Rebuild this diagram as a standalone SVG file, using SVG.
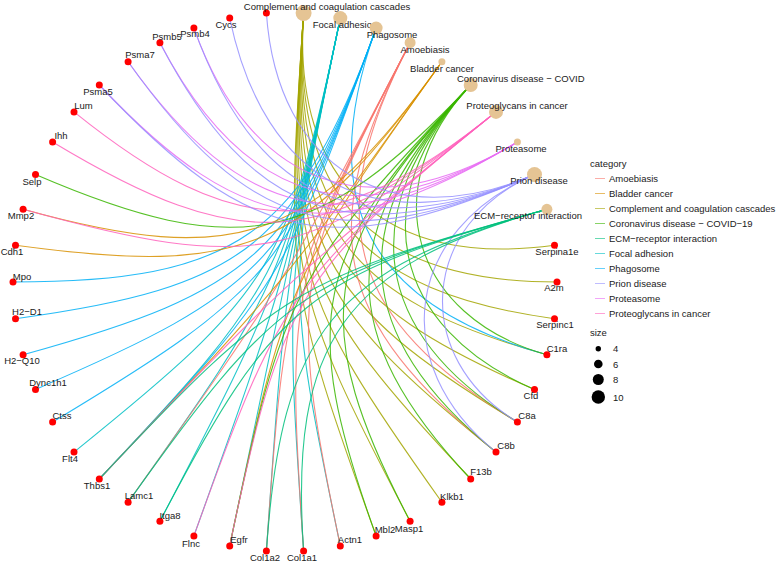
<svg xmlns="http://www.w3.org/2000/svg" width="778" height="562" viewBox="0 0 778 562">
<style>
text{font-family:"Liberation Sans",Arial,sans-serif;font-size:9.5px;fill:#1a1a1a}
.m{text-anchor:middle}
#edges path{fill:none;stroke-width:1.1;stroke-opacity:0.85}
.amo{stroke:#F8766D}.bla{stroke:#D89000}.com{stroke:#A3A500}.cov{stroke:#39B600}.ecm{stroke:#00BF7D}
.foc{stroke:#00BFC4}.pha{stroke:#00B0F6}.pri{stroke:#9590FF}.prs{stroke:#E76BF3}.prg{stroke:#FF62BC}
.g{fill:#FF0000}.c{fill:#E5C494}
.key{stroke-width:1;stroke-opacity:0.6}
</style>
<rect width="778" height="562" fill="#ffffff"/>
<g id="edges">
<g class="com">
<path d="M303.6 13.1C291.9 182.8 384.4 268.5 554.5 245.3"/>
<path d="M303.6 13.1C290.9 196.6 371.3 282 557 282"/>
<path d="M303.6 13.1C290 209.6 357.5 291.9 554.5 318.7"/>
<path d="M303.6 13.1C289.2 221.7 343.7 298.3 546.9 354.7"/>
<path d="M303.6 13.1C288.4 232.8 330.7 301.7 534.5 389.4"/>
<path d="M303.6 13.1C287.7 242.9 318.8 302.4 517.4 422"/>
<path d="M303.6 13.1C287.1 251.9 308.7 301.1 496 452.1"/>
<path d="M303.6 13.1C286.5 259.7 300.4 298.3 470.7 479"/>
<path d="M303.6 13.1C286.1 266.5 294.1 294.7 441.9 502.2"/>
<path d="M303.6 13.1C285.7 272 289.6 290.9 410.1 521.3"/>
<path d="M303.6 13.1C285.4 276.4 286.9 287.3 376.1 535.9"/>
</g>
<g class="foc">
<path d="M340.3 18.1C286.2 276.5 286.2 287.5 340.3 545.9"/>
<path d="M340.3 18.1C285.5 279.5 285.2 284.5 303.6 550.9"/>
<path d="M340.3 18.1C285.1 281.4 285 282.6 266.4 550.9"/>
<path d="M340.3 18.1C285 282 285 282 229.7 545.9"/>
<path d="M340.3 18.1C285.1 281.4 284.8 282.6 193.9 535.9"/>
<path d="M340.3 18.1C285.5 279.5 283.8 284.2 159.9 521.3"/>
<path d="M340.3 18.1C286.2 276.5 281.7 286.6 128.1 502.2"/>
<path d="M340.3 18.1C287.1 272.2 278.1 289.3 99.3 479"/>
<path d="M340.3 18.1C288.2 266.8 272.8 291.8 74 452.1"/>
</g>
<g class="pha">
<path d="M376.1 28.1C313.9 201.4 368.1 305.1 546.9 354.7"/>
<path d="M376.1 28.1C286.9 276.7 281.1 286.1 99.3 479"/>
<path d="M376.1 28.1C290.3 267.3 271.6 290.1 52.6 422"/>
<path d="M376.1 28.1C292.5 261 264.3 290.9 35.5 389.4"/>
<path d="M376.1 28.1C295.2 253.5 255.6 290.2 23.1 354.7"/>
<path d="M376.1 28.1C298.3 245 245.8 287.3 15.5 318.7"/>
<path d="M376.1 28.1C301.7 235.5 235.2 282 13 282"/>
</g>
<g class="amo">
<path d="M410.1 42.7C318.7 217.6 347.6 319.7 517.4 422"/>
<path d="M410.1 42.7C313.1 228.3 332.3 320.2 496 452.1"/>
<path d="M410.1 42.7C292.2 268.2 288.2 297.2 340.3 545.9"/>
<path d="M410.1 42.7C289.6 273.1 285.7 292 303.6 550.9"/>
<path d="M410.1 42.7C287.6 277 284.6 287.6 266.4 550.9"/>
<path d="M410.1 42.7C285.3 281.4 284.6 282.5 128.1 502.2"/>
</g>
<g class="bla">
<path d="M441.9 61.8C288.3 277.4 283.8 287.5 229.7 545.9"/>
<path d="M441.9 61.8C285.4 281.5 284.6 282.5 99.3 479"/>
<path d="M441.9 61.8C307.8 249.9 245.8 276.7 15.5 245.3"/>
<path d="M441.9 61.8C313.7 241.7 237.1 268.7 23.1 209.3"/>
</g>
<g class="cov">
<path d="M470.7 85C374.2 187.4 410.8 316.9 546.9 354.7"/>
<path d="M470.7 85C363.6 198.6 390.6 327.5 534.5 389.4"/>
<path d="M470.7 85C353.5 209.3 370.7 333.6 517.4 422"/>
<path d="M470.7 85C344 219.5 352 336 496 452.1"/>
<path d="M470.7 85C335 229 335 335 470.7 479"/>
<path d="M470.7 85C319 245.9 307.9 325.8 410.1 521.3"/>
<path d="M470.7 85C312 253.3 298.3 319 376.1 535.9"/>
<path d="M470.7 85C291.9 274.7 283 291.8 229.7 545.9"/>
<path d="M470.7 85C319 245.9 239.3 262.3 35.5 174.6"/>
</g>
<g class="prg">
<path d="M496 111.9C297.2 272.2 281.8 297.2 229.7 545.9"/>
<path d="M496 111.9C292.8 275.7 281.6 291.4 193.9 535.9"/>
<path d="M496 111.9C285.5 281.6 284.6 282.5 99.3 479"/>
<path d="M496 111.9C308.7 262.9 255.6 273.8 23.1 209.3"/>
<path d="M496 111.9C323.6 250.9 242.5 256.4 52.6 142"/>
<path d="M496 111.9C332.3 243.8 237.7 243.8 74 111.9"/>
</g>
<g class="prs">
<path d="M517.4 142C337.1 250.6 243.4 237.8 99.3 85"/>
<path d="M517.4 142C347.6 244.3 242.8 222.7 128.1 61.8"/>
<path d="M517.4 142C358.8 237.6 245.3 206 159.9 42.7"/>
<path d="M517.4 142C370.7 230.4 251.4 188.3 193.9 28.1"/>
</g>
<g class="pri">
<path d="M534.5 174.6C419.7 224 410.5 357.6 517.4 422"/>
<path d="M534.5 174.6C404.9 230.4 386.4 363.7 496 452.1"/>
<path d="M534.5 174.6C330.7 262.3 251 245.9 99.3 85"/>
<path d="M534.5 174.6C341 257.9 249.8 232.6 128.1 61.8"/>
<path d="M534.5 174.6C352.2 253.1 251.3 217.6 159.9 42.7"/>
<path d="M534.5 174.6C364.2 247.9 256.1 201.4 193.9 28.1"/>
<path d="M534.5 174.6C377 242.4 264.6 184.6 229.7 18.1"/>
<path d="M534.5 174.6C390.6 236.5 277.1 168.2 266.4 13.1"/>
</g>
<g class="ecm">
<path d="M546.9 209.3C343.7 265.7 289.2 342.3 303.6 550.9"/>
<path d="M546.9 209.3C332.9 268.7 281.6 331.2 266.4 550.9"/>
<path d="M546.9 209.3C306.7 276 274.6 301.8 159.9 521.3"/>
<path d="M546.9 209.3C300.1 277.8 275.9 294.7 128.1 502.2"/>
<path d="M546.9 209.3C294.7 279.3 278.1 289.3 99.3 479"/>
</g>
</g>
<g id="genes">
<g id="n-Serpina1e"><circle class="g" cx="554.5" cy="245.3" r="3.5"/><text class="m" x="557" y="255">Serpina1e</text></g>
<g id="n-A2m"><circle class="g" cx="557" cy="282" r="3.5"/><text class="m" x="554" y="291">A2m</text></g>
<g id="n-Serpinc1"><circle class="g" cx="554.5" cy="318.7" r="3.5"/><text class="m" x="555" y="328">Serpinc1</text></g>
<g id="n-C1ra"><circle class="g" cx="546.9" cy="354.7" r="3.5"/><text class="m" x="557" y="352">C1ra</text></g>
<g id="n-Cfd"><circle class="g" cx="534.5" cy="389.4" r="3.5"/><text class="m" x="531" y="399">Cfd</text></g>
<g id="n-C8a"><circle class="g" cx="517.4" cy="422" r="3.5"/><text class="m" x="527" y="419">C8a</text></g>
<g id="n-C8b"><circle class="g" cx="496" cy="452.1" r="3.5"/><text class="m" x="506" y="449">C8b</text></g>
<g id="n-F13b"><circle class="g" cx="470.7" cy="479" r="3.5"/><text class="m" x="481" y="475">F13b</text></g>
<g id="n-Klkb1"><circle class="g" cx="441.9" cy="502.2" r="3.5"/><text class="m" x="452" y="500">Klkb1</text></g>
<g id="n-Masp1"><circle class="g" cx="410.1" cy="521.3" r="3.5"/><text class="m" x="409" y="532">Masp1</text></g>
<g id="n-Mbl2"><circle class="g" cx="376.1" cy="535.9" r="3.5"/><text class="m" x="385" y="533">Mbl2</text></g>
<g id="n-Actn1"><circle class="g" cx="340.3" cy="545.9" r="3.5"/><text class="m" x="350" y="543">Actn1</text></g>
<g id="n-Col1a1"><circle class="g" cx="303.6" cy="550.9" r="3.5"/><text class="m" x="302" y="561">Col1a1</text></g>
<g id="n-Col1a2"><circle class="g" cx="266.4" cy="550.9" r="3.5"/><text class="m" x="265" y="561">Col1a2</text></g>
<g id="n-Egfr"><circle class="g" cx="229.7" cy="545.9" r="3.5"/><text class="m" x="239" y="543">Egfr</text></g>
<g id="n-Flnc"><circle class="g" cx="193.9" cy="535.9" r="3.5"/><text class="m" x="191" y="547">Flnc</text></g>
<g id="n-Itga8"><circle class="g" cx="159.9" cy="521.3" r="3.5"/><text class="m" x="170" y="519">Itga8</text></g>
<g id="n-Lamc1"><circle class="g" cx="128.1" cy="502.2" r="3.5"/><text class="m" x="139" y="499">Lamc1</text></g>
<g id="n-Thbs1"><circle class="g" cx="99.3" cy="479" r="3.5"/><text class="m" x="97" y="489">Thbs1</text></g>
<g id="n-Flt4"><circle class="g" cx="74" cy="452.1" r="3.5"/><text class="m" x="70" y="462">Flt4</text></g>
<g id="n-Ctss"><circle class="g" cx="52.6" cy="422" r="3.5"/><text class="m" x="62" y="419">Ctss</text></g>
<g id="n-Dync1h1"><circle class="g" cx="35.5" cy="389.4" r="3.5"/><text class="m" x="48" y="386">Dync1h1</text></g>
<g id="n-H2-Q10"><circle class="g" cx="23.1" cy="354.7" r="3.5"/><text class="m" x="22" y="364">H2−Q10</text></g>
<g id="n-H2-D1"><circle class="g" cx="15.5" cy="318.7" r="3.5"/><text class="m" x="27" y="315">H2−D1</text></g>
<g id="n-Mpo"><circle class="g" cx="13" cy="282" r="3.5"/><text class="m" x="22" y="280">Mpo</text></g>
<g id="n-Cdh1"><circle class="g" cx="15.5" cy="245.3" r="3.5"/><text class="m" x="12" y="255">Cdh1</text></g>
<g id="n-Mmp2"><circle class="g" cx="23.1" cy="209.3" r="3.5"/><text class="m" x="21" y="219">Mmp2</text></g>
<g id="n-Selp"><circle class="g" cx="35.5" cy="174.6" r="3.5"/><text class="m" x="32" y="185">Selp</text></g>
<g id="n-Ihh"><circle class="g" cx="52.6" cy="142" r="3.5"/><text class="m" x="61" y="139">Ihh</text></g>
<g id="n-Lum"><circle class="g" cx="74" cy="111.9" r="3.5"/><text class="m" x="83.5" y="109">Lum</text></g>
<g id="n-Psma5"><circle class="g" cx="99.3" cy="85" r="3.5"/><text class="m" x="98" y="95">Psma5</text></g>
<g id="n-Psma7"><circle class="g" cx="128.1" cy="61.8" r="3.5"/><text class="m" x="140" y="58">Psma7</text></g>
<g id="n-Psmb5"><circle class="g" cx="159.9" cy="42.7" r="3.5"/><text class="m" x="167" y="39.5">Psmb5</text></g>
<g id="n-Psmb4"><circle class="g" cx="193.9" cy="28.1" r="3.5"/><text class="m" x="195" y="37">Psmb4</text></g>
<g id="n-Cycs"><circle class="g" cx="229.7" cy="18.1" r="3.5"/><text class="m" x="226" y="28">Cycs</text></g>
<g id="n-gene34"><circle class="g" cx="266.4" cy="13.1" r="3.5"/></g>
</g>
<g id="categories">
<g id="c-complement"><circle class="c" cx="303.6" cy="13.1" r="8"/><text class="m" x="327" y="10">Complement and coagulation cascades</text></g>
<g id="c-focal"><circle class="c" cx="340.3" cy="18.1" r="7"/><text class="m" x="345" y="27.5">Focal adhesion</text></g>
<g id="c-phagosome"><circle class="c" cx="376.1" cy="28.1" r="6.5"/><text class="m" x="392" y="37.5">Phagosome</text></g>
<g id="c-amoebiasis"><circle class="c" cx="410.1" cy="42.7" r="5.5"/><text class="m" x="425" y="52.5">Amoebiasis</text></g>
<g id="c-bladder"><circle class="c" cx="441.9" cy="61.8" r="3.5"/><text class="m" x="442" y="71.5">Bladder cancer</text></g>
<g id="c-covid"><circle class="c" cx="470.7" cy="85" r="7"/><text x="457" y="81.5">Coronavirus disease − COVID</text></g>
<g id="c-proteoglycans"><circle class="c" cx="496" cy="111.9" r="7"/><text class="m" x="517" y="108.5">Proteoglycans in cancer</text></g>
<g id="c-proteasome"><circle class="c" cx="517.4" cy="142" r="3.5"/><text class="m" x="521" y="151.5">Proteasome</text></g>
<g id="c-prion"><circle class="c" cx="534.5" cy="174.6" r="7.5"/><text class="m" x="539" y="183.5">Prion disease</text></g>
<g id="c-ecm"><circle class="c" cx="546.9" cy="209.3" r="5.5"/><text class="m" x="528" y="218.5">ECM−receptor interaction</text></g>
</g>
<g id="legend">
<text x="590" y="167">category</text>
<line class="key" x1="595" y1="178.5" x2="605" y2="178.5" stroke="#F8766D"/><text x="609" y="182">Amoebiasis</text>
<line class="key" x1="595" y1="193.5" x2="605" y2="193.5" stroke="#D89000"/><text x="609" y="197">Bladder cancer</text>
<line class="key" x1="595" y1="208.5" x2="605" y2="208.5" stroke="#A3A500"/><text x="609" y="212">Complement and coagulation cascades</text>
<line class="key" x1="595" y1="223.5" x2="605" y2="223.5" stroke="#39B600"/><text x="609" y="227">Coronavirus disease − COVID−19</text>
<line class="key" x1="595" y1="238.5" x2="605" y2="238.5" stroke="#00BF7D"/><text x="609" y="242">ECM−receptor interaction</text>
<line class="key" x1="595" y1="253.5" x2="605" y2="253.5" stroke="#00BFC4"/><text x="609" y="257">Focal adhesion</text>
<line class="key" x1="595" y1="268.5" x2="605" y2="268.5" stroke="#00B0F6"/><text x="609" y="272">Phagosome</text>
<line class="key" x1="595" y1="283.5" x2="605" y2="283.5" stroke="#9590FF"/><text x="609" y="287">Prion disease</text>
<line class="key" x1="595" y1="298.5" x2="605" y2="298.5" stroke="#E76BF3"/><text x="609" y="302">Proteasome</text>
<line class="key" x1="595" y1="313.5" x2="605" y2="313.5" stroke="#FF62BC"/><text x="609" y="317">Proteoglycans in cancer</text>
<text x="590" y="336">size</text>
<circle cx="598.3" cy="348.7" r="2.7" fill="#000"/><text x="613" y="352">4</text>
<circle cx="598.3" cy="364" r="4.3" fill="#000"/><text x="613" y="367.5">6</text>
<circle cx="598.3" cy="379.5" r="5.5" fill="#000"/><text x="613" y="383">8</text>
<circle cx="598.3" cy="397" r="6.7" fill="#000"/><text x="613" y="400.5">10</text>
</g>
</svg>
